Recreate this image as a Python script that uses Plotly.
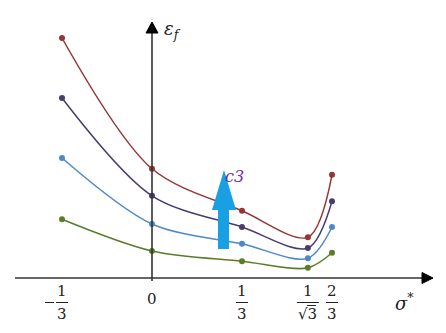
import plotly.graph_objects as go

# ---- data ----
x_vals = [-1/3, 0, 1/3, 3 ** -0.5, 2/3]
red = [4.0, 1.82, 1.12, 0.68, 1.72]
purple = [3.0, 1.37, 0.85, 0.50, 1.28]
blue = [2.0, 0.90, 0.57, 0.33, 0.85]
green = [0.98, 0.45, 0.28, 0.17, 0.42]
series = [("green", green, "#5a7d2a"), ("blue", blue, "#4f88c8"),
          ("purple", purple, "#4a3c6b"), ("red", red, "#943634")]
tick_num = ["1", "", "1", "1", "2"]
tick_den = ["3", "", "3", "√3", "3"]

W, H = 446, 333
# pixel mapping: x_pix = 152 + 270*x ; y_pix = 278 - 60*y
xr = [-152 / 270, (W - 152) / 270]
yr = [(278 - H) / 60, 278 / 60]

def px_x(p):
    return (p - 152) / 270

def px_y(p):
    return (278 - p) / 60

SERIF = "DejaVu Serif"

fig = go.Figure()
for name, vals, col in series:
    fig.add_trace(go.Scatter(x=x_vals, y=vals, mode="lines+markers",
                             line=dict(color=col, width=1.5, shape="spline", smoothing=0.9),
                             marker=dict(color=col, size=6), name=name, showlegend=False))

shapes = []
axcol = "#333333"
# x axis
shapes.append(dict(type="line", x0=px_x(15), x1=px_x(424), y0=0, y1=0, line=dict(color=axcol, width=1.6)))
shapes.append(dict(type="path", path=f"M {px_x(422)} {px_y(272.5)} L {px_x(433)} 0 L {px_x(422)} {px_y(283.5)} Z",
                   fillcolor="black", line=dict(color="black", width=1)))
# y axis
shapes.append(dict(type="line", x0=0, x1=0, y0=px_y(281), y1=px_y(32), line=dict(color=axcol, width=1.6)))
shapes.append(dict(type="path", path=f"M {px_x(146)} {px_y(33)} L 0 {px_y(22)} L {px_x(158)} {px_y(33)} Z",
                   fillcolor="black", line=dict(color="black", width=1)))
# c3 arrow
ac = "#19a0e3"
shapes.append(dict(type="path",
                   path=(f"M {px_x(218)} {px_y(249)} L {px_x(218)} {px_y(210)} L {px_x(212)} {px_y(210)} "
                         f"L {px_x(224)} {px_y(170)} L {px_x(236)} {px_y(210)} L {px_x(229)} {px_y(210)} "
                         f"L {px_x(229)} {px_y(249)} Z"),
                   fillcolor=ac, line=dict(color=ac, width=0)))

annots = []
font = dict(family=SERIF, size=15, color="#222222")
for xv, n, d in zip(x_vals, tick_num, tick_den):
    if n == "":
        annots.append(dict(x=xv, y=px_y(299), text="0", showarrow=False, font=font,
                           xanchor="center", yanchor="middle"))
        continue
    annots.append(dict(x=xv, y=px_y(291), text=n, showarrow=False, font=font,
                       xanchor="center", yanchor="middle"))
    annots.append(dict(x=xv, y=px_y(314), text=d, showarrow=False, font=font,
                       xanchor="center", yanchor="middle"))
    half = 11 if d == "√3" else 6
    shapes.append(dict(type="line", x0=xv - half / 270, x1=xv + half / 270, y0=px_y(302.5), y1=px_y(302.5),
                       line=dict(color="#222222", width=1)))
    if d == "√3":
        shapes.append(dict(type="line", x0=xv - 1 / 270, x1=xv + 8 / 270, y0=px_y(305.5), y1=px_y(305.5),
                           line=dict(color="#222222", width=1)))
# minus sign for -1/3
shapes.append(dict(type="line", x0=px_x(45), x1=px_x(54), y0=px_y(302.5), y1=px_y(302.5),
                   line=dict(color="#222222", width=1)))

annots.append(dict(x=px_x(162), y=px_y(30), text="<i>ε<sub>f</sub></i>", showarrow=False,
                   font=dict(family=SERIF, size=18, color="#222222"), xanchor="left", yanchor="middle"))
annots.append(dict(x=px_x(404), y=px_y(302), text="<i>σ</i><sup>*</sup>", showarrow=False,
                   font=dict(family=SERIF, size=18, color="#222222"), xanchor="center", yanchor="middle"))
annots.append(dict(x=px_x(223), y=px_y(176), text="<i>c3</i>", showarrow=False,
                   font=dict(family=SERIF, size=16, color="#7030a0"), xanchor="left", yanchor="middle"))

fig.update_layout(width=W, height=H, margin=dict(l=0, r=0, t=0, b=0),
                  font=dict(family=SERIF),
                  paper_bgcolor="white", plot_bgcolor="white",
                  xaxis=dict(range=xr, visible=False, fixedrange=True),
                  yaxis=dict(range=yr, visible=False, fixedrange=True),
                  shapes=shapes, annotations=annots, showlegend=False)
fig.write_html("out.html")
